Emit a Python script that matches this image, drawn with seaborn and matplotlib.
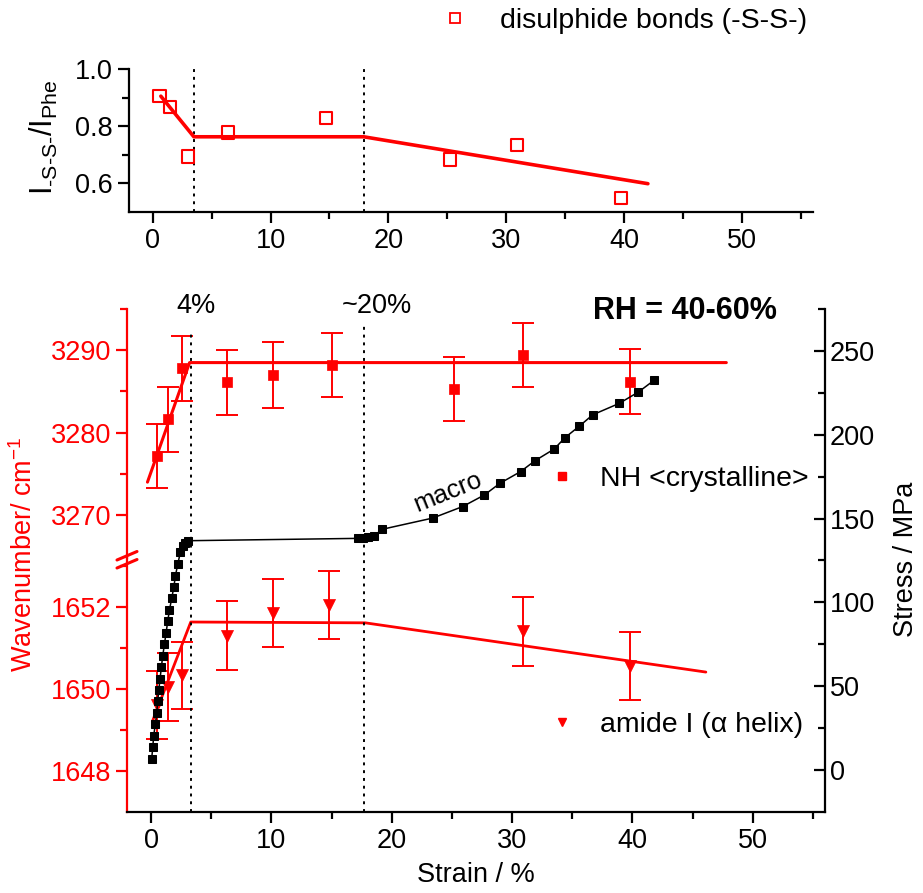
import numpy as np
import matplotlib
matplotlib.use("Agg")
import matplotlib.pyplot as plt
from matplotlib.lines import Line2D
from matplotlib.ticker import MultipleLocator, FixedLocator
import seaborn as sns

# top panel: disulphide bond ratio I(-S-S-)/I(Phe)
ss_strain = [0.6, 1.5, 3.0, 6.4, 14.7, 25.2, 30.9, 39.7]
ss_ratio = [0.905, 0.867, 0.694, 0.778, 0.829, 0.683, 0.734, 0.548]
ss_fit_x = [0.7, 3.5, 17.9, 42.0]
ss_fit_y = [0.905, 0.763, 0.763, 0.599]

# NH <crystalline> band position
nh_strain = [0.47, 1.4, 2.6, 6.3, 10.1, 15.0, 25.2, 30.9, 39.8]
nh_wave = [3277.2, 3281.6, 3287.8, 3286.1, 3287.0, 3288.2, 3285.3, 3289.4, 3286.2]
nh_err = [3.9, 4.0, 3.9, 3.9, 4.0, 3.9, 3.9, 3.9, 3.9]
nh_fit_x = [-0.3, 3.2, 47.8]
nh_fit_y = [3274.0, 3288.5, 3288.5]

# amide I (alpha helix) band position
am_strain = [0.47, 1.4, 2.6, 6.3, 10.1, 14.8, 30.9, 39.8]
am_wave = [1649.6, 1650.05, 1650.33, 1651.3, 1651.85, 1652.05, 1651.4, 1650.55]
am_err = [0.83, 0.83, 0.82, 0.83, 0.83, 0.83, 0.83, 0.83]
am_fit_x = [0.1, 3.3, 17.8, 46.1]
am_fit_y = [1649.2, 1651.63, 1651.61, 1650.41]

# macroscopic stress-strain curve
st_strain = [0.05, 0.14, 0.22, 0.36, 0.47, 0.55, 0.64, 0.75, 0.86, 0.97, 1.11,
             1.25, 1.39, 1.53, 1.72, 1.89, 2.03, 2.22, 2.44, 2.64, 2.83, 3.05,
             17.2, 17.6, 18.05, 18.5, 19.2, 23.4, 25.9, 27.7, 29.0, 30.7, 31.9,
             33.5, 34.4, 35.6, 36.7, 38.9, 40.5, 41.8]
st_stress = [6.6, 13.6, 20.6, 27.6, 34.2, 41.0, 47.6, 54.6, 61.6, 68.2, 75.0,
             82.0, 89.0, 95.6, 102.6, 109.2, 116.0, 123.0, 130.0, 133.5, 135.6, 136.8,
             138.2, 138.6, 139.2, 139.5, 143.6, 150.3, 157.2, 164.1, 171.1, 178.0, 184.5,
             191.5, 198.3, 205.2, 211.9, 218.7, 225.5, 232.5]

top_breaks = [3.5, 17.9]
bot_breaks = [3.3, 17.7]
bot_break_tops = [260, 267]

sns.set_style("ticks")
plt.rcParams['font.family'] = ['Liberation Sans', 'DejaVu Sans']
plt.rcParams['mathtext.fontset'] = 'custom'
plt.rcParams['mathtext.rm'] = 'Liberation Sans'
plt.rcParams['mathtext.default'] = 'regular'
plt.rcParams['axes.linewidth'] = 1.6
for key in ('text.color', 'axes.labelcolor', 'xtick.color', 'ytick.color', 'axes.edgecolor'):
    plt.rcParams[key] = 'black'

W, H = 923, 893
fig = plt.figure(figsize=(W / 100, H / 100), dpi=100)


def box(l, t, r, b):
    return [l / W, 1 - b / H, (r - l) / W, (b - t) / H]


RED = '#ff0000'
FS = 19.5

ax_top = fig.add_axes(box(129, 69, 813, 212))
ax_lo = fig.add_axes(box(127, 558, 825, 812))
ax_hi = fig.add_axes(box(127, 309, 825, 558))
ax_s = fig.add_axes(box(127, 309, 825, 812))
for a in (ax_lo, ax_hi, ax_s):
    a.patch.set_alpha(0)

# ---- top panel
for xb in top_breaks:
    ax_top.axvline(xb, color='black', ls=(0, (1.5, 2.5)), lw=1.4, zorder=1)
sns.lineplot(x=ss_fit_x, y=ss_fit_y, ax=ax_top, color=RED, lw=2.6, sort=False, estimator=None)
sns.scatterplot(x=ss_strain, y=ss_ratio, ax=ax_top, marker='s', s=80,
                facecolor='none', edgecolor=RED, linewidth=1.5, zorder=3)
ax_top.set_xlim(-2, 56)
ax_top.set_ylim(0.5, 1.0)
ax_top.xaxis.set_major_locator(MultipleLocator(10))
ax_top.xaxis.set_minor_locator(MultipleLocator(5))
ax_top.yaxis.set_major_locator(FixedLocator([0.6, 0.8, 1.0]))
ax_top.yaxis.set_minor_locator(FixedLocator([0.7, 0.9]))
ax_top.yaxis.set_major_formatter(matplotlib.ticker.FormatStrFormatter('%.1f'))
sns.despine(ax=ax_top)
ax_top.tick_params(which='major', length=8, width=1.6, labelsize=FS, direction='out')
ax_top.tick_params(which='minor', length=5, width=1.6, direction='out')
ax_top.set_xlabel('')
fig.text(44 / W, 1 - 137 / H, 'I$_{\u2010S\u2010S\u2010}$/I$_{Phe}$', rotation=90,
         ha='center', va='center', fontsize=22)

# ---- bottom: amide I (lower segment)
sns.lineplot(x=am_fit_x, y=am_fit_y, ax=ax_lo, color=RED, lw=2.0, sort=False, estimator=None)
ax_lo.errorbar(am_strain, am_wave, yerr=am_err, fmt='none', ecolor=RED,
               elinewidth=1.4, capsize=8, capthick=1.4)
sns.scatterplot(x=am_strain, y=am_wave, ax=ax_lo, marker='v', s=75, color=RED,
                edgecolor=RED, linewidth=0.5, zorder=3)
ax_lo.set_xlim(-2, 56)
ax_lo.set_ylim(1647, 1653.19)
ax_lo.yaxis.set_major_locator(FixedLocator([1648, 1650, 1652]))
ax_lo.yaxis.set_minor_locator(FixedLocator([1649, 1651, 1653]))
ax_lo.xaxis.set_major_locator(MultipleLocator(10))
ax_lo.xaxis.set_minor_locator(MultipleLocator(5))
for side in ('top', 'right'):
    ax_lo.spines[side].set_visible(False)
ax_lo.spines['left'].set_color(RED)
ax_lo.tick_params(axis='y', which='both', colors=RED, labelcolor=RED)
ax_lo.tick_params(which='major', length=8, width=1.6, labelsize=FS, direction='out')
ax_lo.tick_params(which='minor', length=5, width=1.6, direction='out')
ax_lo.set_xlabel('Strain / %', fontsize=FS, labelpad=6)

# ---- bottom: NH (upper segment)
sns.lineplot(x=nh_fit_x, y=nh_fit_y, ax=ax_hi, color=RED, lw=2.2, sort=False, estimator=None)
ax_hi.errorbar(nh_strain, nh_wave, yerr=nh_err, fmt='none', ecolor=RED,
               elinewidth=1.4, capsize=8, capthick=1.4)
sns.scatterplot(x=nh_strain, y=nh_wave, ax=ax_hi, marker='s', s=55, color=RED,
                edgecolor=RED, linewidth=0.5, zorder=3)
ax_hi.set_xlim(-2, 56)
ax_hi.set_ylim(3264.8, 3295)
ax_hi.yaxis.set_major_locator(FixedLocator([3270, 3280, 3290]))
ax_hi.yaxis.set_minor_locator(FixedLocator([3275, 3285, 3295]))
for side in ('top', 'right', 'bottom'):
    ax_hi.spines[side].set_visible(False)
ax_hi.spines['left'].set_color(RED)
ax_hi.set_xticks([])
ax_hi.tick_params(axis='y', which='both', colors=RED, labelcolor=RED)
ax_hi.tick_params(which='major', length=8, width=1.6, labelsize=FS, direction='out')
ax_hi.tick_params(which='minor', length=5, width=1.6, direction='out')

# ---- stress axis (right)
ax_s.vlines(bot_breaks, -25, bot_break_tops, color='black', ls=(0, (1.5, 2.5)), lw=1.4, zorder=1)
sns.lineplot(x=st_strain, y=st_stress, ax=ax_s, color='black', lw=1.1, marker='s',
             markersize=6, mec='black', mfc='black', sort=False, estimator=None, zorder=4)
ax_s.set_xlim(-2, 56)
ax_s.set_ylim(-25, 275)
ax_s.yaxis.tick_right()
ax_s.yaxis.set_major_locator(MultipleLocator(50))
ax_s.yaxis.set_minor_locator(FixedLocator([25, 75, 125, 175, 225, 275]))
ax_s.set_xticks([])
for side in ('top', 'left', 'bottom'):
    ax_s.spines[side].set_visible(False)
ax_s.tick_params(axis='y', which='major', length=8, width=1.6, labelsize=FS, direction='in')
ax_s.tick_params(axis='y', which='minor', length=5, width=1.6, direction='in')
ax_s.set_xlabel('')
ax_s.set_ylabel('')

# axis break marks on the left spine
for yy in (560, 568):
    fig.add_artist(Line2D([117 / W, 137 / W], [1 - yy / H, 1 - (yy - 8.5) / H],
                          color=RED, lw=2.2, transform=fig.transFigure))

# labels and annotations
fig.text(24 / W, 1 - 554 / H, 'Wavenumber/ cm$^{-1}$', rotation=90, color=RED,
         ha='center', va='center', fontsize=FS)
fig.text(906 / W, 1 - 559 / H, 'Stress / MPa', rotation=90,
         ha='center', va='center', fontsize=FS)
fig.text(196 / W, 1 - 306 / H, '4%', ha='center', va='center', fontsize=FS)
fig.text(377 / W, 1 - 306 / H, '~20%', ha='center', va='center', fontsize=FS)
fig.text(685 / W, 1 - 311 / H, 'RH = 40-60%', ha='center', va='center',
         fontsize=22, fontweight='bold')
fig.text(448 / W, 1 - 492 / H, 'macro', ha='center', va='center', fontsize=18.5, rotation=22)

# legends
leg_items = [
    (Line2D([], [], ls='', marker='s', ms=7, mfc='none', mec=RED, mew=1.3),
     'disulphide bonds (-S-S-)', 427, 21, 0.58),
    (Line2D([], [], ls='', marker='s', ms=6, mfc=RED, mec=RED),
     'NH <crystalline>', 534, 479, 0.33),
    (Line2D([], [], ls='', marker='v', ms=6, mfc=RED, mec=RED),
     'amide I (\u03b1 helix)', 534, 725, 0.33),
]
for handle, label, xl, yc, pad in leg_items:
    fig.legend([handle], [label], loc='center left', frameon=False, fontsize=20.5,
               bbox_to_anchor=(xl / W, 1 - yc / H), bbox_transform=fig.transFigure,
               handletextpad=pad, borderpad=0, borderaxespad=0)

fig.savefig('out.png', dpi=100)
